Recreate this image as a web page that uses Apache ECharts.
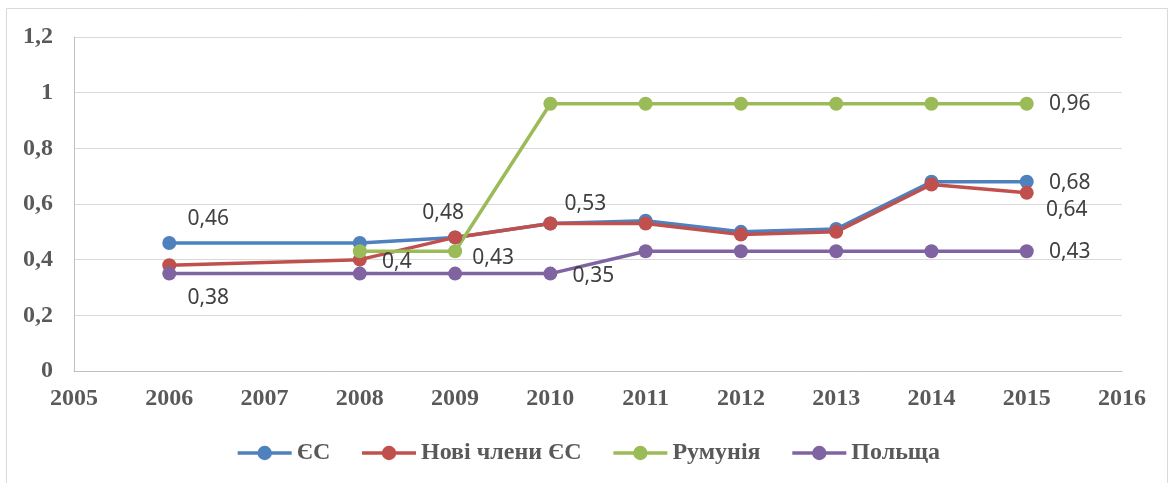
<!DOCTYPE html>
<html>
<head>
<meta charset="utf-8">
<script src="https://cdn.jsdelivr.net/npm/echarts@6/dist/echarts.min.js"></script>
<style>
  html, body { margin: 0; padding: 0; background: #fff; }
  #chart { width: 1176px; height: 483px; }
</style>
</head>
<body>
<div id="chart"></div>
<script>
// роки, для яких є дані (2007 пропущено)
const years = [2006, 2008, 2009, 2010, 2011, 2012, 2013, 2014, 2015]
const seriesNames = ['ЄС', 'Нові члени ЄС', 'Румунія', 'Польща']
const euValues = [0.46, 0.46, 0.48, 0.53, 0.54, 0.50, 0.51, 0.68, 0.68]
const newMembersValues = [0.38, 0.40, 0.48, 0.53, 0.53, 0.49, 0.50, 0.67, 0.64]
const romaniaValues = [null, 0.43, 0.43, 0.96, 0.96, 0.96, 0.96, 0.96, 0.96]
const polandValues = [0.35, 0.35, 0.35, 0.35, 0.43, 0.43, 0.43, 0.43, 0.43]
const yTicks = [0, 0.2, 0.4, 0.6, 0.8, 1, 1.2]

const colors = ['#4F81BD', '#C0504D', '#9BBB59', '#8064A2']

// підписи даних: серія, рік, зсув від точки
const labelSpots = [
  { s: 0, year: 2006, dx: 39, dy: -24 },
  { s: 1, year: 2006, dx: 39, dy: 33 },
  { s: 1, year: 2008, dx: 37, dy: 2 },
  { s: 1, year: 2009, dx: -12, dy: -24 },
  { s: 2, year: 2009, dx: 38, dy: 7 },
  { s: 1, year: 2010, dx: 35, dy: -19 },
  { s: 3, year: 2010, dx: 43, dy: 2 },
  { s: 2, year: 2015, dx: 43, dy: 0 },
  { s: 0, year: 2015, dx: 43, dy: 1 },
  { s: 1, year: 2015, dx: 40, dy: 17 },
  { s: 3, year: 2015, dx: 43, dy: 1 }
]

const fmt = v => String(v).replace('.', ',')

function buildData (sIndex, values) {
  return years.map((year, i) => {
    const item = { value: [year, values[i]] }
    const spot = labelSpots.find(l => l.s === sIndex && l.year === year)
    if (spot) {
      item.label = {
        show: true,
        position: 'inside',
        offset: [spot.dx, spot.dy],
        formatter: p => fmt(p.value[1]),
        color: '#404040',
        fontFamily: 'Noto Sans',
        fontSize: 21
      }
    }
    return item
  })
}

const allValues = [euValues, newMembersValues, romaniaValues, polandValues]

const serifBold = {
  color: '#595959',
  fontFamily: 'Liberation Serif',
  fontWeight: 'bold',
  fontSize: 24
}

const chart = echarts.init(document.getElementById('chart'))
chart.setOption({
  animation: false,
  color: colors,
  graphic: [{
    type: 'rect',
    shape: { x: 6.5, y: 8.5, width: 1161, height: 500 },
    style: { fill: 'none', stroke: '#d9d9d9', lineWidth: 1 },
    silent: true
  }],
  grid: { left: 74, right: 54, top: 37, bottom: 112 },
  xAxis: {
    type: 'value',
    min: 2005,
    max: 2016,
    interval: 1,
    axisLine: { show: true, lineStyle: { color: '#bfbfbf', width: 1 } },
    axisTick: { show: false },
    splitLine: { show: false },
    axisLabel: Object.assign({ margin: 16, formatter: v => String(v) }, serifBold)
  },
  yAxis: {
    type: 'value',
    min: yTicks[0],
    max: yTicks[yTicks.length - 1],
    interval: 0.2,
    axisLine: { show: true, lineStyle: { color: '#bfbfbf', width: 1 } },
    axisTick: { show: false },
    splitLine: { lineStyle: { color: '#d9d9d9', width: 1 } },
    axisLabel: Object.assign({ margin: 21, formatter: v => fmt(Math.round(v * 10) / 10) }, serifBold)
  },
  legend: {
    top: 436,
    left: 'center',
    itemWidth: 54,
    itemHeight: 18,
    itemGap: 30,
    lineStyle: { width: 3.5 },
    textStyle: serifBold,
    data: seriesNames
  },
  series: seriesNames.map((name, i) => ({
    name: name,
    type: 'line',
    symbol: 'circle',
    symbolSize: 14,
    lineStyle: { width: 3.5 },
    connectNulls: false,
    data: buildData(i, allValues[i])
  }))
})
</script>
</body>
</html>
